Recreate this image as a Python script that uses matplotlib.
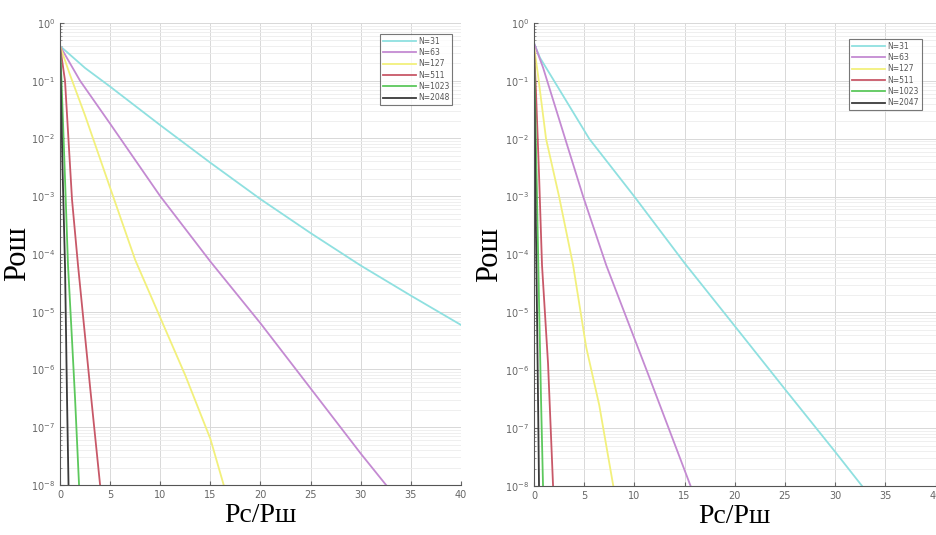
import matplotlib
matplotlib.use("Agg")
import matplotlib.pyplot as plt
from matplotlib.ticker import LogLocator, MultipleLocator, NullFormatter

# отношение сигнал/шум по оси X, вероятность ошибки по оси Y
# ---- левый график ----
left_labels = ['N=31', 'N=63', 'N=127', 'N=511', 'N=1023', 'N=2048']
left_x = [
    [0, 2.5, 5, 10, 15, 20, 25, 30, 35, 40],
    [0, 2, 5, 10, 15, 20, 25, 30, 33],
    [0, 1, 2.5, 5, 7.5, 10, 12.5, 15, 16.5],
    [0, 0.5, 1.2, 1.8, 3, 4, 4.3],
    [0, 0.15, 0.4, 0.8, 1.2, 1.5, 1.9, 2.0],
    [0, 0.1, 0.25, 0.5, 0.7, 0.85, 0.9],
]
left_p = [
    [0.4, 0.166, 0.079, 0.017, 3.8e-3, 8.9e-4, 2.3e-4, 6.3e-5, 1.9e-5, 5.9e-6],
    [0.4, 0.1, 0.018, 1e-3, 7.4e-5, 6.3e-6, 4.7e-7, 3.5e-8, 7.9e-9],
    [0.4, 0.126, 0.025, 1.4e-3, 7.9e-5, 7.9e-6, 7.9e-7, 6.3e-8, 7.9e-9],
    [0.4, 0.1, 8.7e-4, 6.3e-5, 5e-7, 1e-8, 3.2e-9],
    [0.4, 0.1, 6.3e-3, 6.3e-5, 3.2e-6, 3.2e-7, 1e-8, 5e-9],
    [0.4, 0.063, 3.2e-3, 6.3e-5, 3.2e-7, 1e-8, 3.2e-9],
]

# ---- правый график ----
right_labels = ['N=31', 'N=63', 'N=127', 'N=511', 'N=1023', 'N=2047']
right_x = [
    [0, 0.6, 2, 5.5, 10, 15, 20, 25, 30, 33],
    [0, 0.9, 4.9, 7.2, 11.4, 15.6, 16],
    [0, 0.4, 1.2, 2.5, 3.9, 5.2, 6.5, 7.9, 8.1],
    [0, 0.2, 0.5, 0.8, 1.4, 1.9, 2.0],
    [0, 0.1, 0.3, 0.5, 0.7, 0.9, 0.95],
    [0, 0.05, 0.15, 0.3, 0.45, 0.5, 0.55],
]
right_p = [
    [0.45, 0.25, 0.1, 0.01, 1e-3, 7.1e-5, 5.8e-6, 4.7e-7, 3.9e-8, 8.5e-9],
    [0.45, 0.17, 1e-3, 6.5e-5, 8.3e-7, 1e-8, 6.6e-9],
    [0.4, 0.126, 0.01, 1e-3, 6.5e-5, 2.5e-6, 2.5e-7, 1e-8, 6.3e-9],
    [0.4, 0.063, 2.5e-3, 6.5e-5, 1.3e-6, 1e-8, 5e-9],
    [0.4, 0.05, 1e-3, 1.6e-5, 3.2e-7, 1e-8, 4e-9],
    [0.4, 0.063, 1e-3, 1e-5, 6.3e-8, 1e-8, 3.2e-9],
]

colors = ['#8fe0e0', '#c48ad2', '#f2f07c', '#c85868', '#5cc85c', '#3a3a3a']

fig = plt.figure(figsize=(9.36, 5.35), dpi=100)
ax1 = fig.add_axes([0.0641, 0.0935, 0.4284, 0.8636])
ax2 = fig.add_axes([0.5705, 0.0916, 0.4290, 0.8655])

serif = ['Liberation Serif', 'DejaVu Serif']


def draw(ax, xs, ps, labels, ylab_x, leg_anchor):
    for x, p, c, lab in zip(xs, ps, colors, labels):
        ax.semilogy(x, p, color=c, lw=1.3, label=lab)
    ax.set_xlim(0, 40)
    ax.set_ylim(1e-8, 1)
    ax.xaxis.set_major_locator(MultipleLocator(5))
    ax.yaxis.set_major_locator(LogLocator(base=10, numticks=20))
    ax.yaxis.set_minor_locator(LogLocator(base=10, subs=range(2, 10), numticks=20))
    ax.yaxis.set_minor_formatter(NullFormatter())
    ax.grid(True, which='major', color='#d8d8d8', lw=0.7)
    ax.grid(True, which='minor', axis='y', color='#ececec', lw=0.6)
    ax.set_axisbelow(True)
    for s in ['top', 'right']:
        ax.spines[s].set_visible(False)
    for s in ['left', 'bottom']:
        ax.spines[s].set_color('#555555')
    ax.tick_params(direction='in', labelsize=7, colors='#666666', length=3)
    ax.tick_params(which='minor', direction='in', length=1.5, colors='#888888')
    ax.set_ylabel('Рош', family=serif, fontsize=22)
    ax.yaxis.set_label_coords(ylab_x, 0.5)
    ax.set_xlabel('Рс/Рш', family=serif, fontsize=20, labelpad=2)
    leg = ax.legend(loc='upper right', fontsize=5.5, frameon=True, fancybox=False,
                    handlelength=4.3, handletextpad=0.3, borderpad=0.4,
                    labelspacing=0.3, bbox_to_anchor=leg_anchor)
    leg.get_frame().set_edgecolor('#555555')
    leg.get_frame().set_linewidth(0.8)
    for t in leg.get_texts():
        t.set_color('#555555')


draw(ax1, left_x, left_p, left_labels, -0.07, (0.988, 0.985))
draw(ax2, right_x, right_p, right_labels, -0.075, (0.975, 0.974))

fig.savefig('out.png', dpi=100)
